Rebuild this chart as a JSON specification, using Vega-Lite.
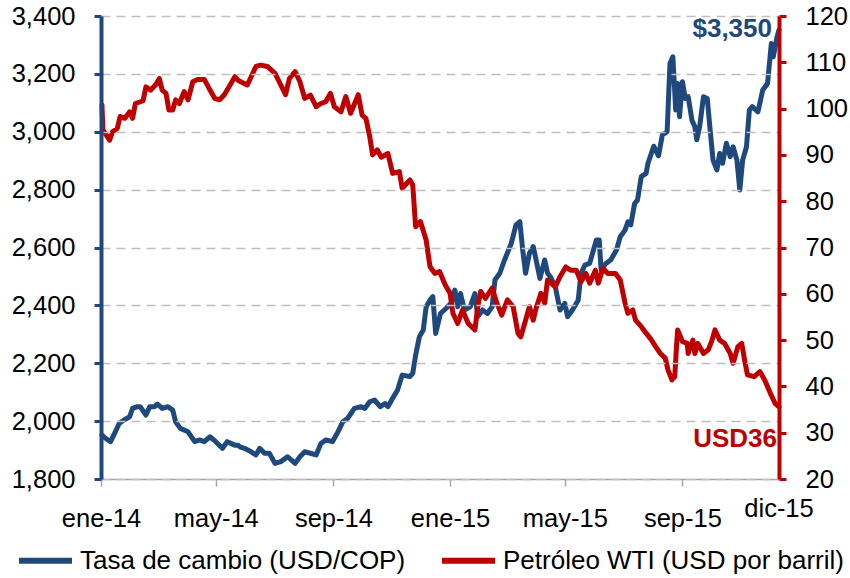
{
  "$schema": "https://vega.github.io/schema/vega-lite/v6.json",
  "width": 678,
  "height": 463,
  "autosize": {"type": "none"},
  "padding": {"left": 101, "top": 16, "right": 71, "bottom": 99},
  "background": "white",
  "config": {"view": {"stroke": null}, "font": "Liberation Sans"},
  "datasets": {
    "cop": [
      {"d":"2014-01-02","v":1952},{"d":"2014-01-06","v":1940},{"d":"2014-01-11","v":1929},{"d":"2014-01-16","v":1963},{"d":"2014-01-20","v":1992},{"d":"2014-01-25","v":2004},{"d":"2014-01-31","v":2015},{"d":"2014-02-03","v":2044},{"d":"2014-02-08","v":2050},{"d":"2014-02-11","v":2050},{"d":"2014-02-17","v":2021},{"d":"2014-02-21","v":2050},{"d":"2014-02-26","v":2050},{"d":"2014-03-01","v":2059},{"d":"2014-03-06","v":2044},{"d":"2014-03-12","v":2050},{"d":"2014-03-17","v":2038},{"d":"2014-03-20","v":1998},{"d":"2014-03-25","v":1975},{"d":"2014-04-02","v":1963},{"d":"2014-04-09","v":1929},{"d":"2014-04-14","v":1935},{"d":"2014-04-19","v":1929},{"d":"2014-04-25","v":1946},{"d":"2014-05-01","v":1929},{"d":"2014-05-08","v":1906},{"d":"2014-05-13","v":1929},{"d":"2014-05-21","v":1917},{"d":"2014-05-24","v":1917},{"d":"2014-05-27","v":1910},{"d":"2014-05-31","v":1906},{"d":"2014-06-07","v":1894},{"d":"2014-06-12","v":1883},{"d":"2014-06-16","v":1906},{"d":"2014-06-21","v":1889},{"d":"2014-06-26","v":1889},{"d":"2014-07-02","v":1854},{"d":"2014-07-08","v":1860},{"d":"2014-07-15","v":1877},{"d":"2014-07-23","v":1854},{"d":"2014-07-28","v":1877},{"d":"2014-08-02","v":1894},{"d":"2014-08-08","v":1889},{"d":"2014-08-14","v":1883},{"d":"2014-08-19","v":1923},{"d":"2014-08-24","v":1935},{"d":"2014-08-31","v":1929},{"d":"2014-09-05","v":1958},{"d":"2014-09-11","v":1998},{"d":"2014-09-16","v":2010},{"d":"2014-09-23","v":2044},{"d":"2014-09-30","v":2050},{"d":"2014-10-04","v":2044},{"d":"2014-10-09","v":2067},{"d":"2014-10-14","v":2073},{"d":"2014-10-20","v":2050},{"d":"2014-10-25","v":2061},{"d":"2014-10-28","v":2050},{"d":"2014-11-02","v":2079},{"d":"2014-11-07","v":2107},{"d":"2014-11-12","v":2159},{"d":"2014-11-20","v":2154},{"d":"2014-11-23","v":2165},{"d":"2014-11-26","v":2228},{"d":"2014-11-30","v":2292},{"d":"2014-12-04","v":2315},{"d":"2014-12-07","v":2395},{"d":"2014-12-11","v":2418},{"d":"2014-12-14","v":2430},{"d":"2014-12-17","v":2303},{"d":"2014-12-22","v":2372},{"d":"2014-12-28","v":2390},{"d":"2015-01-02","v":2407},{"d":"2015-01-06","v":2453},{"d":"2015-01-09","v":2395},{"d":"2015-01-12","v":2441},{"d":"2015-01-16","v":2384},{"d":"2015-01-22","v":2395},{"d":"2015-01-27","v":2441},{"d":"2015-01-30","v":2361},{"d":"2015-02-04","v":2384},{"d":"2015-02-09","v":2372},{"d":"2015-02-14","v":2395},{"d":"2015-02-17","v":2488},{"d":"2015-02-22","v":2511},{"d":"2015-02-27","v":2557},{"d":"2015-03-06","v":2614},{"d":"2015-03-11","v":2678},{"d":"2015-03-15","v":2689},{"d":"2015-03-18","v":2591},{"d":"2015-03-21","v":2511},{"d":"2015-03-25","v":2580},{"d":"2015-03-29","v":2603},{"d":"2015-04-01","v":2557},{"d":"2015-04-05","v":2493},{"d":"2015-04-10","v":2557},{"d":"2015-04-13","v":2511},{"d":"2015-04-16","v":2499},{"d":"2015-04-21","v":2465},{"d":"2015-04-26","v":2384},{"d":"2015-05-01","v":2407},{"d":"2015-05-04","v":2361},{"d":"2015-05-09","v":2384},{"d":"2015-05-15","v":2418},{"d":"2015-05-18","v":2511},{"d":"2015-05-22","v":2539},{"d":"2015-05-27","v":2545},{"d":"2015-05-30","v":2580},{"d":"2015-06-03","v":2626},{"d":"2015-06-06","v":2626},{"d":"2015-06-08","v":2522},{"d":"2015-06-13","v":2545},{"d":"2015-06-18","v":2557},{"d":"2015-06-24","v":2591},{"d":"2015-06-28","v":2637},{"d":"2015-07-03","v":2660},{"d":"2015-07-06","v":2689},{"d":"2015-07-09","v":2678},{"d":"2015-07-13","v":2752},{"d":"2015-07-16","v":2764},{"d":"2015-07-20","v":2845},{"d":"2015-07-25","v":2856},{"d":"2015-07-27","v":2891},{"d":"2015-08-02","v":2950},{"d":"2015-08-07","v":2917},{"d":"2015-08-11","v":2989},{"d":"2015-08-16","v":3000},{"d":"2015-08-19","v":3236},{"d":"2015-08-22","v":3259},{"d":"2015-08-25","v":3075},{"d":"2015-08-27","v":3167},{"d":"2015-08-29","v":3052},{"d":"2015-09-01","v":3173},{"d":"2015-09-04","v":3115},{"d":"2015-09-07","v":3121},{"d":"2015-09-11","v":3040},{"d":"2015-09-14","v":3017},{"d":"2015-09-16","v":2972},{"d":"2015-09-19","v":3017},{"d":"2015-09-23","v":3121},{"d":"2015-09-27","v":3115},{"d":"2015-09-30","v":3006},{"d":"2015-10-03","v":2902},{"d":"2015-10-07","v":2868},{"d":"2015-10-10","v":2925},{"d":"2015-10-13","v":2891},{"d":"2015-10-17","v":2960},{"d":"2015-10-21","v":2914},{"d":"2015-10-24","v":2948},{"d":"2015-10-28","v":2902},{"d":"2015-10-31","v":2799},{"d":"2015-11-03","v":2902},{"d":"2015-11-07","v":2948},{"d":"2015-11-10","v":3075},{"d":"2015-11-13","v":3087},{"d":"2015-11-19","v":3069},{"d":"2015-11-24","v":3144},{"d":"2015-11-29","v":3167},{"d":"2015-12-03","v":3305},{"d":"2015-12-05","v":3259},{"d":"2015-12-09","v":3328},{"d":"2015-12-11","v":3352}
    ],
    "wti": [
      {"d":"2014-01-02","v":100.8},{"d":"2014-01-03","v":95.4},{"d":"2014-01-10","v":93.2},{"d":"2014-01-13","v":95.0},{"d":"2014-01-18","v":95.7},{"d":"2014-01-21","v":98.3},{"d":"2014-01-26","v":97.9},{"d":"2014-01-31","v":99.3},{"d":"2014-02-03","v":97.9},{"d":"2014-02-06","v":101.1},{"d":"2014-02-14","v":101.7},{"d":"2014-02-17","v":104.7},{"d":"2014-02-22","v":104.0},{"d":"2014-02-27","v":105.1},{"d":"2014-03-03","v":106.5},{"d":"2014-03-06","v":104.0},{"d":"2014-03-10","v":103.3},{"d":"2014-03-13","v":99.7},{"d":"2014-03-17","v":99.7},{"d":"2014-03-20","v":101.9},{"d":"2014-03-24","v":101.1},{"d":"2014-03-29","v":103.7},{"d":"2014-04-02","v":101.9},{"d":"2014-04-07","v":105.8},{"d":"2014-04-12","v":106.3},{"d":"2014-04-19","v":106.3},{"d":"2014-04-25","v":104.0},{"d":"2014-04-30","v":102.2},{"d":"2014-05-05","v":101.9},{"d":"2014-05-10","v":103.0},{"d":"2014-05-16","v":105.1},{"d":"2014-05-21","v":106.9},{"d":"2014-05-25","v":106.0},{"d":"2014-06-03","v":105.1},{"d":"2014-06-12","v":109.1},{"d":"2014-06-17","v":109.4},{"d":"2014-06-24","v":109.1},{"d":"2014-07-02","v":107.6},{"d":"2014-07-08","v":105.1},{"d":"2014-07-13","v":103.0},{"d":"2014-07-17","v":106.5},{"d":"2014-07-23","v":108.0},{"d":"2014-07-28","v":105.8},{"d":"2014-08-02","v":102.2},{"d":"2014-08-08","v":102.9},{"d":"2014-08-14","v":100.4},{"d":"2014-08-19","v":101.1},{"d":"2014-08-24","v":101.5},{"d":"2014-08-29","v":103.3},{"d":"2014-09-02","v":100.4},{"d":"2014-09-09","v":99.3},{"d":"2014-09-14","v":102.6},{"d":"2014-09-19","v":99.0},{"d":"2014-09-27","v":103.0},{"d":"2014-10-01","v":98.6},{"d":"2014-10-05","v":97.9},{"d":"2014-10-09","v":94.0},{"d":"2014-10-12","v":90.0},{"d":"2014-10-17","v":91.1},{"d":"2014-10-21","v":89.5},{"d":"2014-10-28","v":90.3},{"d":"2014-11-02","v":86.0},{"d":"2014-11-09","v":86.4},{"d":"2014-11-12","v":82.8},{"d":"2014-11-20","v":84.6},{"d":"2014-11-23","v":83.5},{"d":"2014-11-26","v":74.5},{"d":"2014-12-01","v":75.6},{"d":"2014-12-07","v":71.6},{"d":"2014-12-11","v":65.9},{"d":"2014-12-16","v":64.4},{"d":"2014-12-21","v":64.8},{"d":"2014-12-27","v":61.9},{"d":"2015-01-01","v":60.1},{"d":"2015-01-04","v":55.8},{"d":"2015-01-09","v":53.6},{"d":"2015-01-14","v":56.5},{"d":"2015-01-20","v":53.6},{"d":"2015-01-27","v":52.2},{"d":"2015-01-30","v":57.2},{"d":"2015-02-02","v":60.5},{"d":"2015-02-07","v":59.0},{"d":"2015-02-14","v":61.2},{"d":"2015-02-19","v":58.0},{"d":"2015-02-24","v":55.4},{"d":"2015-03-02","v":58.7},{"d":"2015-03-08","v":57.2},{"d":"2015-03-13","v":51.5},{"d":"2015-03-16","v":50.7},{"d":"2015-03-21","v":54.3},{"d":"2015-03-25","v":57.2},{"d":"2015-03-29","v":54.3},{"d":"2015-04-01","v":56.9},{"d":"2015-04-06","v":60.1},{"d":"2015-04-10","v":58.0},{"d":"2015-04-13","v":63.0},{"d":"2015-04-21","v":61.5},{"d":"2015-04-26","v":63.7},{"d":"2015-05-02","v":65.8},{"d":"2015-05-07","v":65.1},{"d":"2015-05-13","v":65.1},{"d":"2015-05-18","v":62.6},{"d":"2015-05-23","v":64.4},{"d":"2015-05-27","v":62.3},{"d":"2015-06-02","v":65.1},{"d":"2015-06-05","v":62.3},{"d":"2015-06-10","v":65.5},{"d":"2015-06-15","v":64.4},{"d":"2015-06-23","v":64.4},{"d":"2015-06-28","v":63.0},{"d":"2015-07-03","v":58.0},{"d":"2015-07-06","v":55.8},{"d":"2015-07-11","v":56.5},{"d":"2015-07-14","v":54.3},{"d":"2015-07-20","v":52.9},{"d":"2015-07-25","v":51.5},{"d":"2015-07-30","v":50.2},{"d":"2015-08-04","v":48.6},{"d":"2015-08-09","v":47.1},{"d":"2015-08-14","v":46.1},{"d":"2015-08-17","v":43.5},{"d":"2015-08-21","v":41.4},{"d":"2015-08-24","v":42.1},{"d":"2015-08-26","v":49.3},{"d":"2015-08-27","v":52.2},{"d":"2015-09-01","v":49.7},{"d":"2015-09-06","v":49.3},{"d":"2015-09-07","v":47.1},{"d":"2015-09-12","v":50.0},{"d":"2015-09-14","v":47.1},{"d":"2015-09-17","v":49.3},{"d":"2015-09-23","v":47.1},{"d":"2015-09-28","v":47.9},{"d":"2015-10-02","v":50.0},{"d":"2015-10-05","v":52.2},{"d":"2015-10-10","v":50.0},{"d":"2015-10-15","v":49.3},{"d":"2015-10-21","v":47.1},{"d":"2015-10-24","v":45.0},{"d":"2015-10-29","v":48.6},{"d":"2015-11-02","v":49.3},{"d":"2015-11-05","v":45.7},{"d":"2015-11-08","v":42.5},{"d":"2015-11-15","v":42.1},{"d":"2015-11-21","v":43.2},{"d":"2015-11-26","v":41.4},{"d":"2015-12-02","v":38.5},{"d":"2015-12-07","v":36.3},{"d":"2015-12-11","v":35.6}
    ]
  },
  "layer": [
    {
      "layer": [
        {
          "data": {"name": "cop"},
          "mark": {"type": "line", "strokeWidth": 5, "strokeJoin": "round", "strokeCap": "round"},
          "encoding": {
            "x": {
              "field": "d", "type": "temporal",
              "scale": {"domain": [{"year": 2014, "month": 1, "date": 1}, {"year": 2015, "month": 12, "date": 11}], "nice": false},
              "axis": {
                "title": null,
                "values": [{"year": 2014, "month": 1, "date": 1}, {"year": 2014, "month": 5, "date": 1}, {"year": 2014, "month": 9, "date": 1}, {"year": 2015, "month": 1, "date": 1}, {"year": 2015, "month": 5, "date": 1}, {"year": 2015, "month": 9, "date": 1}],
                "labelExpr": "['ene','feb','mar','abr','may','jun','jul','ago','sep','oct','nov','dic'][month(datum.value)] + '-' + timeFormat(datum.value, '%y')",
                "grid": false,
                "domainColor": "#A6A6A6", "domainWidth": 1.5,
                "tickColor": "#A6A6A6", "tickWidth": 1.5, "tickSize": 7,
                "labelFontSize": 25.5, "labelColor": "#000000", "labelPadding": 20, "labelFlush": false
              }
            },
            "y": {
              "field": "v", "type": "quantitative",
              "scale": {"domain": [1800, 3400], "nice": false, "zero": false},
              "axis": {
                "title": null, "orient": "left",
                "values": [1800, 2000, 2200, 2400, 2600, 2800, 3000, 3200, 3400],
                "format": ",.0f",
                "grid": true, "gridColor": "#BFBFBF", "gridDash": [9, 6], "gridWidth": 1.5,
                "domainColor": "#1F497D", "domainWidth": 4,
                "tickColor": "#1F497D", "tickWidth": 3, "tickSize": 7,
                "labelFontSize": 25.5, "labelColor": "#000000", "labelPadding": 19,
                "zindex": 1
              }
            },
            "color": {
              "datum": "Tasa de cambio (USD/COP)", "type": "nominal",
              "scale": {"domain": ["Tasa de cambio (USD/COP)", "Petróleo WTI (USD por barril)"], "range": ["#1F497D", "#C00000"]},
              "legend": {
                "title": null, "orient": "none", "direction": "horizontal",
                "legendX": -85, "legendY": 515,
                "symbolType": "stroke", "symbolStrokeWidth": 6, "symbolSize": 2809,
                "labelFontSize": 26, "labelColor": "#000000", "labelLimit": 0, "labelOffset": 5,
                "columnPadding": 24, "padding": 0
              }
            }
          }
        },
        {
          "data": {"values": [{"d": "2015-12-11", "v": 3327, "t": "$3,350"}]},
          "mark": {"type": "text", "align": "right", "baseline": "alphabetic", "dx": -7, "fontWeight": "bold", "fontSize": 26, "color": "#1F497D"},
          "encoding": {
            "x": {"field": "d", "type": "temporal"},
            "y": {"field": "v", "type": "quantitative"},
            "text": {"field": "t"}
          }
        }
      ]
    },
    {
      "layer": [
        {
          "data": {"name": "wti"},
          "mark": {"type": "line", "strokeWidth": 5, "strokeJoin": "round", "strokeCap": "round"},
          "encoding": {
            "x": {"field": "d", "type": "temporal"},
            "y": {
              "field": "v", "type": "quantitative",
              "scale": {"domain": [20, 120], "nice": false, "zero": false},
              "axis": {
                "title": null, "orient": "right",
                "values": [20, 30, 40, 50, 60, 70, 80, 90, 100, 110, 120],
                "grid": false,
                "domainColor": "#C00000", "domainWidth": 4,
                "tickColor": "#C00000", "tickWidth": 3, "tickSize": 7,
                "labelFontSize": 25.5, "labelColor": "#000000", "labelPadding": 19,
                "zindex": 1
              }
            },
            "color": {"datum": "Petróleo WTI (USD por barril)", "type": "nominal"}
          }
        },
        {
          "data": {"values": [{"d": "2015-12-11", "v": 26.9, "t": "USD36"}]},
          "mark": {"type": "text", "align": "right", "baseline": "alphabetic", "dx": -2, "fontWeight": "bold", "fontSize": 26, "color": "#C00000"},
          "encoding": {
            "x": {"field": "d", "type": "temporal"},
            "y": {"field": "v", "type": "quantitative"},
            "text": {"field": "t"}
          }
        },
        {
          "data": {"values": [{"d": "2015-12-11", "v": 11.8, "t": "dic-15"}]},
          "mark": {"type": "text", "align": "center", "baseline": "alphabetic", "fontSize": 25.5, "color": "#000000"},
          "encoding": {
            "x": {"field": "d", "type": "temporal"},
            "y": {"field": "v", "type": "quantitative"},
            "text": {"field": "t"}
          }
        }
      ]
    }
  ],
  "resolve": {"scale": {"y": "independent"}}
}
